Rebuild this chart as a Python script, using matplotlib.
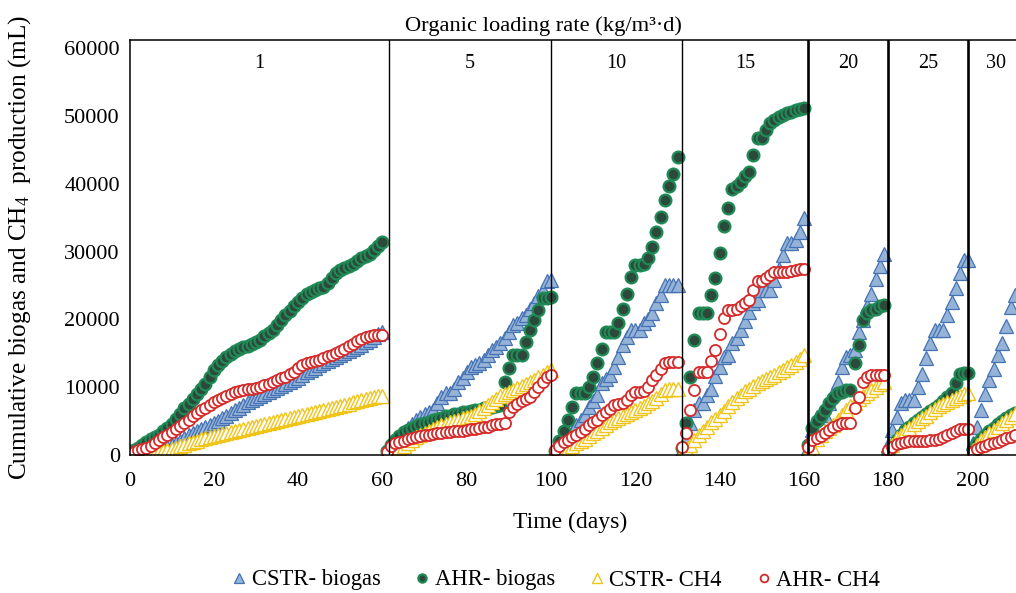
import numpy as np
import matplotlib
matplotlib.use("Agg")
import matplotlib.pyplot as plt

plt.rcParams['font.family'] = ['Liberation Serif', 'DejaVu Serif']
plt.rcParams['mathtext.fontset'] = 'custom'
plt.rcParams['mathtext.rm'] = 'Liberation Serif'
plt.rcParams['mathtext.it'] = 'Liberation Serif:italic'

# ---------------- data ----------------
# day ranges (first, last) of each organic-loading-rate period
seg_days = [(0, 60), (61, 100), (101, 130), (131, 160), (161, 179), (180, 199), (200, 210)]
olr_labels = ["1", "5", "10", "15", "20", "25", "30"]
olr_bounds = [61.5, 100, 131, 161, 180, 199]

cstr_biogas = [
    [0, 100, 200, 300, 400, 500, 650, 800, 1000, 1200,
     1500, 1800, 2100, 2500, 2900, 3200, 3500, 3800, 4100, 4400,
     4700, 5000, 5400, 5800, 6200, 6600, 7000, 7400, 7800, 8100,
     8400, 8700, 9000, 9300, 9600, 9900, 10200, 10500, 10800, 11100,
     11400, 11800, 12200, 12600, 12900, 13200, 13500, 13800, 14100, 14400,
     14700, 15000, 15300, 15600, 15900, 16200, 16600, 17000, 17400, 17800,
     18200],
    [300, 1000, 1800, 2600, 3400, 4000, 4600, 5100, 5600, 6100,
     6400, 6600, 7600, 8600, 9100, 9100, 9800, 10800, 11300, 12300,
     13000, 13300, 13500, 14000, 14700, 15500, 16000, 16500, 17200, 18200,
     19200, 19500, 20200, 20700, 21600, 22400, 23400, 24300, 25600, 25800],
    [300, 1000, 1800, 2600, 3400, 4400, 5200, 5900, 7100, 8000,
     8900, 10600, 11200, 11800, 13000, 14500, 16200, 17400, 18400, 18400,
     18400, 19400, 20000, 20900, 22400, 23600, 25100, 25100, 25100, 25100],
    [800, 2500, 4700, 6600, 7600, 7600, 8900, 9800, 11600, 13000,
     14500, 14700, 16500, 17200, 18400, 19700, 21100, 22400, 22900, 24300,
     24300, 24300, 25800, 27500, 29500, 31200, 31200, 31700, 32900, 34900],
    [1000, 3700, 5600, 5900, 5900, 7600, 9100, 10800, 13000, 14500,
     14700, 15500, 18200, 19900, 21900, 23800, 26000, 27800, 29700],
    [1500, 3700, 5600, 7600, 8100, 8100, 8100, 10100, 12000, 14300,
     16500, 18400, 18400, 18400, 20700, 22600, 24600, 26800, 28800, 28800],
    [1800, 4200, 6600, 9000, 11000, 12700, 14800, 16500, 19000, 21800, 23600],
]

ahr_biogas = [
    [200, 700, 1100, 1500, 1900, 2300, 2600, 3000, 3500, 4000,
     4500, 5300, 6100, 6900, 7500, 8200, 9000, 9800, 10500, 11500,
     12500, 13300, 13900, 14400, 14900, 15300, 15600, 15900, 16100, 16400,
     16700, 17000, 17500, 18000, 18500, 19200, 19900, 20700, 21300, 21900,
     22500, 23200, 23800, 24100, 24400, 24600, 24800, 25400, 26100, 26800,
     27300, 27600, 27900, 28200, 28600, 29000, 29300, 29700, 30200, 30800,
     31400],
    [600, 1500, 2200, 2800, 3400, 3700, 4000, 4300, 4500, 4700,
     4900, 5100, 5300, 5500, 5700, 5800, 6000, 6100, 6300, 6400,
     6500, 6600, 6700, 6900, 7000, 7100, 7200, 7300, 10800, 12800,
     14700, 14700, 14700, 16700, 18400, 19900, 21400, 23100, 23100, 23300],
    [600, 2000, 3500, 5100, 7100, 9100, 9100, 9100, 10100, 11500,
     13500, 15700, 18200, 18200, 18200, 19400, 21600, 23800, 26300, 28000,
     28000, 28200, 29000, 30700, 32900, 35100, 37600, 39600, 41500, 44000],
    [1000, 4700, 11500, 17000, 20900, 20900, 20900, 23600, 26100, 29800,
     33700, 36400, 39300, 39600, 40300, 41100, 41800, 44300, 46700, 46700,
     47900, 48900, 49400, 49900, 50200, 50400, 50600, 50900, 51000, 51100],
    [1500, 4000, 5000, 5800, 6600, 7600, 8400, 9100, 9300, 9600,
     9600, 13500, 16200, 19900, 20900, 21400, 21600, 21900, 22100],
    [300, 1200, 2200, 3000, 3700, 4200, 4700, 5200, 5600, 6000,
     6500, 7000, 7400, 7900, 8500, 9100, 10600, 12000, 12100, 12100],
    [900, 1700, 2400, 3000, 3500, 4000, 4500, 5000, 5500, 5900, 6200],
]

cstr_ch4 = [
    [0, 50, 100, 150, 200, 250, 350, 450, 600, 750,
     900, 1100, 1300, 1500, 1700, 1900, 2100, 2300, 2450, 2600,
     2750, 2900, 3050, 3200, 3350, 3500, 3650, 3800, 3950, 4100,
     4250, 4400, 4550, 4700, 4850, 5000, 5150, 5300, 5450, 5600,
     5750, 5900, 6050, 6200, 6350, 6500, 6650, 6800, 6950, 7100,
     7250, 7400, 7550, 7800, 7950, 8100, 8250, 8400, 8550, 8650,
     8700],
    [300, 600, 800, 1100, 1400, 1800, 2200, 2600, 2900, 3200,
     3500, 3800, 4100, 4400, 4600, 4800, 5000, 5200, 5400, 5600,
     5800, 6100, 6500, 7000, 7400, 7800, 8200, 8700, 9000, 9300,
     9600, 9900, 10200, 10500, 10800, 11100, 11500, 11800, 12200, 12500],
    [300, 500, 800, 1100, 1400, 1700, 2000, 2400, 2800, 3200,
     3600, 4000, 4400, 4800, 5100, 5400, 5700, 6000, 6300, 6600,
     6900, 7200, 7600, 8000, 8400, 9000, 9600, 9800, 9800, 9800],
    [300, 900, 1500, 2200, 2900, 3500, 4200, 4800, 5300, 5900,
     6500, 7200, 7800, 8400, 8900, 9400, 9800, 10200, 10600, 10900,
     11200, 11500, 11800, 12200, 12600, 13000, 13300, 13700, 14200, 14700],
    [500, 1200, 2300, 2900, 3500, 4000, 4400, 5100, 5900, 6600,
     7200, 7700, 8200, 8700, 9200, 9600, 10000, 10400, 10800],
    [400, 1500, 2500, 3000, 3500, 4000, 4600, 5000, 5400, 5800,
     6300, 6800, 7200, 7500, 7800, 8100, 8400, 8700, 9000, 9200],
    [700, 1500, 2200, 2700, 3200, 3700, 4200, 4700, 5200, 5600, 6000],
]

ahr_ch4 = [
    [300, 500, 700, 900, 1100, 1400, 1800, 2200, 2600, 3000,
     3400, 3900, 4300, 4700, 5200, 5700, 6200, 6600, 7000, 7400,
     7800, 8100, 8400, 8700, 9000, 9300, 9500, 9600, 9700, 9800,
     9900, 10100, 10300, 10500, 10800, 11000, 11300, 11500, 11900, 12300,
     12800, 13200, 13500, 13700, 13900, 14000, 14300, 14600, 14800, 15000,
     15300, 15700, 16100, 16400, 16800, 17100, 17400, 17600, 17700, 17700,
     17700],
    [500, 1300, 1700, 1900, 2100, 2300, 2500, 2700, 2800, 2900,
     3000, 3100, 3200, 3300, 3400, 3400, 3500, 3500, 3600, 3700,
     3800, 3900, 4000, 4100, 4200, 4400, 4500, 4600, 4700, 6400,
     7100, 7500, 7900, 8300, 8600, 9300, 10000, 10800, 11500, 11800],
    [700, 1400, 1900, 2200, 2700, 2900, 3400, 3900, 4400, 4800,
     5200, 5900, 6400, 6800, 7300, 7500, 7700, 8100, 8800, 9300,
     9300, 9500, 10000, 11000, 11800, 12700, 13500, 13700, 13700, 13700],
    [1200, 3200, 6600, 9600, 12300, 12300, 12300, 13800, 15500, 17900,
     20200, 21400, 21400, 21600, 21900, 22400, 22900, 24300, 25600, 25600,
     26100, 26600, 27000, 27000, 27000, 27000, 27100, 27300, 27400, 27500],
    [1200, 2200, 2500, 2800, 3200, 3700, 4200, 4400, 4700, 4700,
     4700, 6900, 8600, 10800, 11500, 11800, 11800, 11800, 11800],
    [700, 1200, 1600, 1800, 1900, 2000, 2000, 2000, 2000, 2100,
     2200, 2200, 2400, 2700, 3000, 3200, 3600, 3800, 3900, 3900],
    [500, 900, 1200, 1400, 1600, 1800, 1950, 2200, 2450, 2700, 2900],
]

series_names = ["CSTR- biogas", "AHR- biogas", "CSTR- CH4", "AHR- CH4"]

# ---------------- styling ----------------
styles = [
    dict(marker='^', ms=9.5, mfc='#95B3D7', mec='#4472B4', mew=0.9),
    dict(marker='o', ms=8.5, mfc='#2C4A3C', mec='#1F8A55', mew=1.6),
    dict(marker='^', ms=9.5, mfc='white', mec='#F0C419', mew=1.0),
    dict(marker='o', ms=8.0, mfc='white', mec='#D62A2A', mew=1.3),
]

W, H = 1016, 593
AX_L, AX_B, AX_W, AX_H = 129.5, 138, W - 129.5, 415
fig = plt.figure(figsize=(W / 100, H / 100), dpi=100)
ax = fig.add_axes([AX_L / W, AX_B / H, AX_W / W, AX_H / H])

handles = []
for name, data, st in zip(series_names, [cstr_biogas, ahr_biogas, cstr_ch4, ahr_ch4], styles):
    xs, ys = [], []
    for (d0, d1), vals in zip(seg_days, data):
        days = np.arange(d0, d1 + 1)
        n = min(len(days), len(vals))
        xs.extend(days[:n])
        ys.extend(vals[:n])
    h, = ax.plot(xs, ys, linestyle='none', label=name, **st)
    handles.append(h)

for i, b in enumerate(olr_bounds):
    ax.axvline(b, color='black', lw=1.0 if i < 3 else 1.9, zorder=5)

ax.set_xlim(0, 210.3)
ax.set_ylim(0, 61200)
ax.set_xticks(np.arange(0, 201, 20))
ax.set_yticks(np.arange(0, 60001, 10000))
ax.tick_params(axis='both', length=0, labelsize=16, pad=7)
ax.tick_params(axis='x', pad=12)
for s in ['left', 'top', 'bottom']:
    ax.spines[s].set_linewidth(1.1)
ax.spines['right'].set_visible(False)

# OLR labels at the middle of each period
edges = [0] + olr_bounds + [212]
for lab, a, b in zip(olr_labels, edges[:-1], edges[1:]):
    ax.text((a + b) / 2, 0.943, lab, transform=ax.get_xaxis_transform(),
            ha='center', va='center', fontsize=14.5)

fig.text(543 / W, 1 - 26 / H, "Organic loading rate (kg/m\u00b3\u00b7d)",
         ha='center', va='center', fontsize=16.2)

ax.set_xlabel("Time (days)", fontsize=17)
ax.xaxis.set_label_coords((570.5 - AX_L) / AX_W, (455 - 512) / AX_H)
ax.set_ylabel(r"Cumulative biogas and CH$_{4}$  production (mL)", fontsize=18.2)
ax.yaxis.set_label_coords((33 - AX_L) / AX_W, (455 - 247) / AX_H)

fig.legend(handles, series_names, loc='center', bbox_to_anchor=(554 / W, 1 - 580 / H),
           ncol=4, frameon=False, fontsize=16.3, handletextpad=0.05,
           columnspacing=1.35, markerscale=0.7, handlelength=1.0)

fig.savefig("out.png", dpi=100)
